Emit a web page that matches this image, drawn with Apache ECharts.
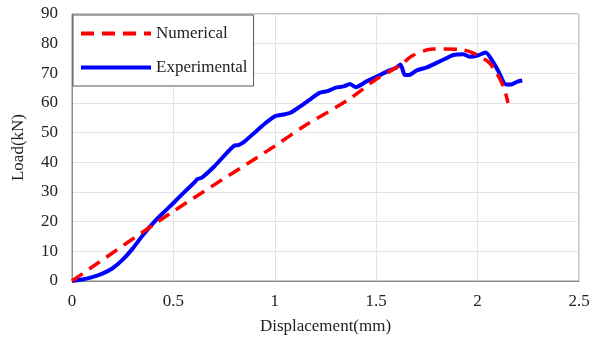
<!DOCTYPE html>
<html>
<head>
<meta charset="utf-8">
<script src="https://cdn.jsdelivr.net/npm/echarts@6/dist/echarts.min.js"></script>
<style>
  html, body { margin: 0; padding: 0; background: #fff; }
  #chart { width: 602px; height: 343px; }
</style>
</head>
<body>
<div id="chart"></div>
<script>
// load-displacement data
const expX = [0, 0.05, 0.1, 0.15, 0.2, 0.25, 0.3, 0.35, 0.4, 0.45, 0.5, 0.55, 0.6, 0.62, 0.64, 0.7, 0.75, 0.8, 0.82, 0.85, 0.9, 0.95, 1.0, 1.05, 1.08, 1.12, 1.18, 1.22, 1.26, 1.3, 1.34, 1.37, 1.4, 1.45, 1.5, 1.55, 1.6, 1.62, 1.64, 1.66, 1.7, 1.75, 1.8, 1.85, 1.88, 1.93, 1.96, 2.0, 2.04, 2.07, 2.1, 2.14, 2.17, 2.2, 2.22];
const expY = [0, 0.5, 1.3, 2.5, 4.3, 7.2, 11, 15.5, 19.5, 23, 26.3, 29.7, 33, 34.4, 34.8, 38.5, 42.2, 45.6, 45.8, 47, 50, 53, 55.5, 56.2, 56.8, 58.6, 61.5, 63.4, 64, 65.2, 65.6, 66.4, 65.3, 67.2, 68.8, 70.5, 72, 73, 69.5, 69.4, 71, 72, 73.6, 75.2, 76.2, 76.4, 75.6, 76, 77, 74.5, 71, 66.2, 66.3, 67.3, 67.6];

const numX = [0, 0.5, 1.0, 1.14, 1.36, 1.5, 1.62, 1.68, 1.78, 1.91, 1.98, 2.05, 2.09, 2.13, 2.15];
const numY = [0, 23.5, 45.5, 52, 61, 68, 72.8, 76, 78.2, 78.1, 76.8, 74, 70.6, 65, 60];

const pairs = (xs, ys) => xs.map((x, i) => [x, ys[i]]);

const font = "'Liberation Serif', 'Times New Roman', serif";
const chart = echarts.init(document.getElementById("chart"));

chart.setOption({
  animation: false,
  backgroundColor: "#fff",
  grid: { left: 72, right: 23, top: 14, bottom: 62, show: true, borderColor: "#8c8c8c", borderWidth: 1 },
  legend: {
    left: 73,
    top: 15,
    orient: "vertical",
    padding: [10, 6, 10, 6],
    itemWidth: 70,
    itemHeight: 14,
    itemGap: 17,
    borderColor: "#555",
    borderWidth: 1,
    backgroundColor: "#fff",
    itemStyle: { opacity: 0 },
    lineStyle: { width: 4 },
    textStyle: { fontFamily: font, fontSize: 17, color: "#222" },
    data: ["Numerical", "Experimental"],
  },
  xAxis: {
    type: "value",
    min: 0,
    max: 2.5,
    interval: 0.5,
    name: "Displacement(mm)",
    nameLocation: "middle",
    nameGap: 37,
    nameTextStyle: { fontFamily: font, fontSize: 17, color: "#222" },
    axisLine: { show: true, lineStyle: { color: "#8c8c8c" } },
    axisTick: { show: false },
    axisLabel: { fontFamily: font, fontSize: 17, color: "#222", margin: 12 },
    splitLine: { lineStyle: { color: "#e3e3e3" } },
  },
  yAxis: {
    type: "value",
    min: 0,
    max: 90,
    interval: 10,
    name: "Load(kN)",
    nameLocation: "middle",
    nameGap: 45,
    nameTextStyle: { fontFamily: font, fontSize: 17, color: "#222" },
    axisLine: { show: true, lineStyle: { color: "#8c8c8c" } },
    axisTick: { show: false },
    axisLabel: { fontFamily: font, fontSize: 17, color: "#222", margin: 14 },
    splitLine: { lineStyle: { color: "#e3e3e3" } },
  },
  series: [
    {
      name: "Numerical",
      type: "line",
      data: pairs(numX, numY),
      symbol: "none",
      smooth: 0.3,
      lineStyle: { color: "#ff0000", width: 3.5, type: [13, 8] },
      itemStyle: { color: "#ff0000" },
      z: 3,
    },
    {
      name: "Experimental",
      type: "line",
      data: pairs(expX, expY),
      symbol: "none",
      smooth: 0.2,
      lineStyle: { color: "#0000ff", width: 4 },
      itemStyle: { color: "#0000ff" },
      z: 2,
    },
  ],
});
</script>
</body>
</html>
